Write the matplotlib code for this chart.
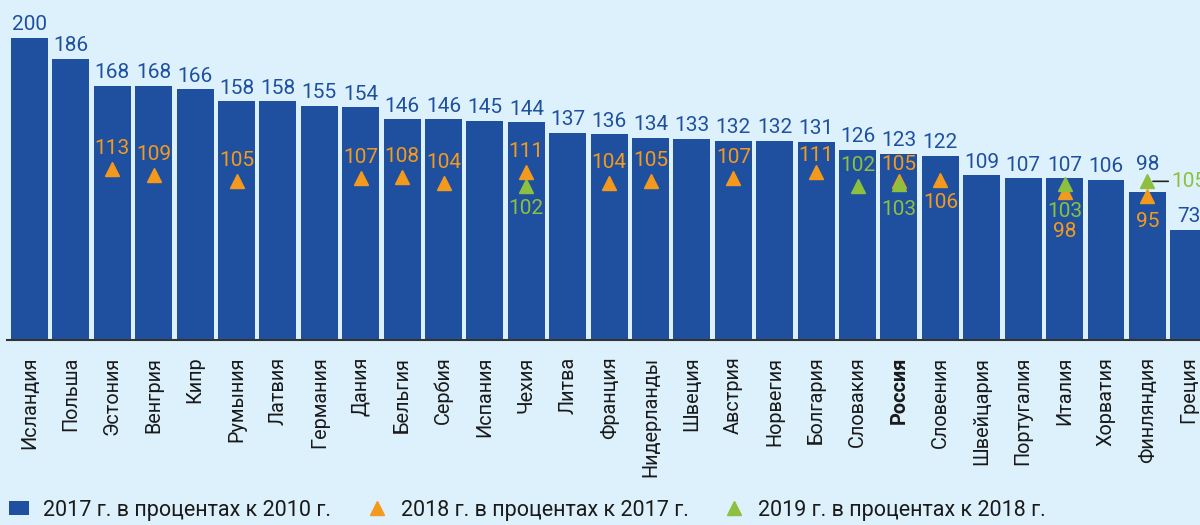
import numpy as np
import matplotlib
matplotlib.use("Agg")
import matplotlib.pyplot as plt
from matplotlib.patches import Patch
from matplotlib.lines import Line2D

countries = ["Исландия", "Польша", "Эстония", "Венгрия", "Кипр", "Румыния", "Латвия",
             "Германия", "Дания", "Бельгия", "Сербия", "Испания", "Чехия", "Литва",
             "Франция", "Нидерланды", "Швеция", "Австрия", "Норвегия", "Болгария",
             "Словакия", "Россия", "Словения", "Швейцария", "Португалия", "Италия",
             "Хорватия", "Финляндия", "Греция"]
v2017 = [200, 186, 168, 168, 166, 158, 158, 155, 154, 146, 146, 145, 144, 137,
         136, 134, 133, 132, 132, 131, 126, 123, 122, 109, 107, 107, 106, 98, 73]
nan = np.nan
v2018 = [nan, nan, 113, 109, nan, 105, nan, nan, 107, 108, 104, nan, 111, nan,
         104, 105, nan, 107, nan, 111, nan, 105, 106, nan, nan, 98, nan, 95, nan]
v2019 = [nan, nan, nan, nan, nan, nan, nan, nan, nan, nan, nan, nan, 102, nan,
         nan, nan, nan, nan, nan, nan, 102, 103, nan, nan, nan, 103, nan, 105, nan]
legend_labels = ["2017 г. в процентах к 2010 г.",
                 "2018 г. в процентах к 2017 г.",
                 "2019 г. в процентах к 2018 г."]

# label placement (offsets in points) for labels
bar_offsets = {"Финляндия": 16}
orange_offsets = {"Словения": -9.5, "Италия": -22, "Финляндия": -11,
                  "Россия": 8, "Болгария": 8}
green_offsets = {"Чехия": -9.5, "Словакия": 11, "Россия": -11, "Италия": -12.5}

BG = "#DCF1FC"
BLUE = "#1F50A0"
ORANGE = "#F39A1E"
GREEN = "#8DC03F"
plt.rcParams['font.family'] = ['Roboto', 'DejaVu Sans']

fig = plt.figure(figsize=(12, 5.25), dpi=100, facecolor=BG)
ax = fig.add_axes([7/1200, 185/525, 1 - 7/1200, 340/525])
ax.set_facecolor(BG)

x = np.arange(len(countries))
ax.bar(x, v2017, width=0.893, color=BLUE, zorder=2)
ax.set_xlim(-0.543, 28.27)
ax.set_ylim(0, 225)

for i, v in enumerate(v2017):
    off = bar_offsets.get(countries[i], 5.5)
    ax.annotate(str(v), (i, v), xytext=(0, off), textcoords='offset points',
                ha='center', va='baseline', fontsize=15, color=BLUE, zorder=5)

o = np.array(v2018, dtype=float)
g = np.array(v2019, dtype=float)
ax.plot(x, o, linestyle='none', marker='^', markersize=10, color=ORANGE, zorder=3)
ax.plot(x, g, linestyle='none', marker='^', markersize=10, color=GREEN, zorder=4)

for i, v in enumerate(v2018):
    if np.isnan(v):
        continue
    off = orange_offsets.get(countries[i], 11)
    va = 'baseline' if off > 0 else 'top'
    ax.annotate(str(int(v)), (i, v), xytext=(0, off), textcoords='offset points',
                ha='center', va=va, fontsize=15, color=ORANGE, zorder=5)

for i, v in enumerate(v2019):
    if np.isnan(v):
        continue
    name = countries[i]
    if name == "Финляндия":
        ax.annotate(str(int(v)), (i, v), xytext=(17, 0), textcoords='offset points',
                    ha='left', va='center', fontsize=15, color=GREEN, zorder=5,
                    arrowprops=dict(arrowstyle='-', color='#222222', lw=1.2,
                                    shrinkA=0, shrinkB=4, relpos=(0, 0.5)))
        continue
    off = green_offsets.get(name, 11)
    va = 'baseline' if off > 0 else 'top'
    ax.annotate(str(int(v)), (i, v), xytext=(0, off), textcoords='offset points',
                ha='center', va=va, fontsize=15, color=GREEN, zorder=5)

for s in ['top', 'right', 'left']:
    ax.spines[s].set_visible(False)
ax.spines['bottom'].set_color('#333333')
ax.spines['bottom'].set_linewidth(1.5)
ax.spines['bottom'].set_zorder(6)
ax.set_yticks([])
ax.set_xticks(x)
ax.set_xticklabels(countries, rotation=90, fontsize=14.3, color='#1a1a1a')
for lbl in ax.get_xticklabels():
    if lbl.get_text() == "Россия":
        lbl.set_fontweight('bold')
ax.tick_params(axis='x', length=0, pad=12)

handles = [Patch(facecolor=BLUE, edgecolor='none'),
           Line2D([], [], linestyle='none', marker='^', markersize=10, color=ORANGE),
           Line2D([], [], linestyle='none', marker='^', markersize=10, color=GREEN)]
fig.legend(handles, legend_labels, loc='lower left', bbox_to_anchor=(0.0, -0.008),
           ncol=3, frameon=False, fontsize=15.5, handlelength=0.93, handleheight=0.65,
           handletextpad=0.65, columnspacing=1.67, borderaxespad=0, labelcolor='#1a1a1a')

fig.savefig("out.png", dpi=100, facecolor=BG)
